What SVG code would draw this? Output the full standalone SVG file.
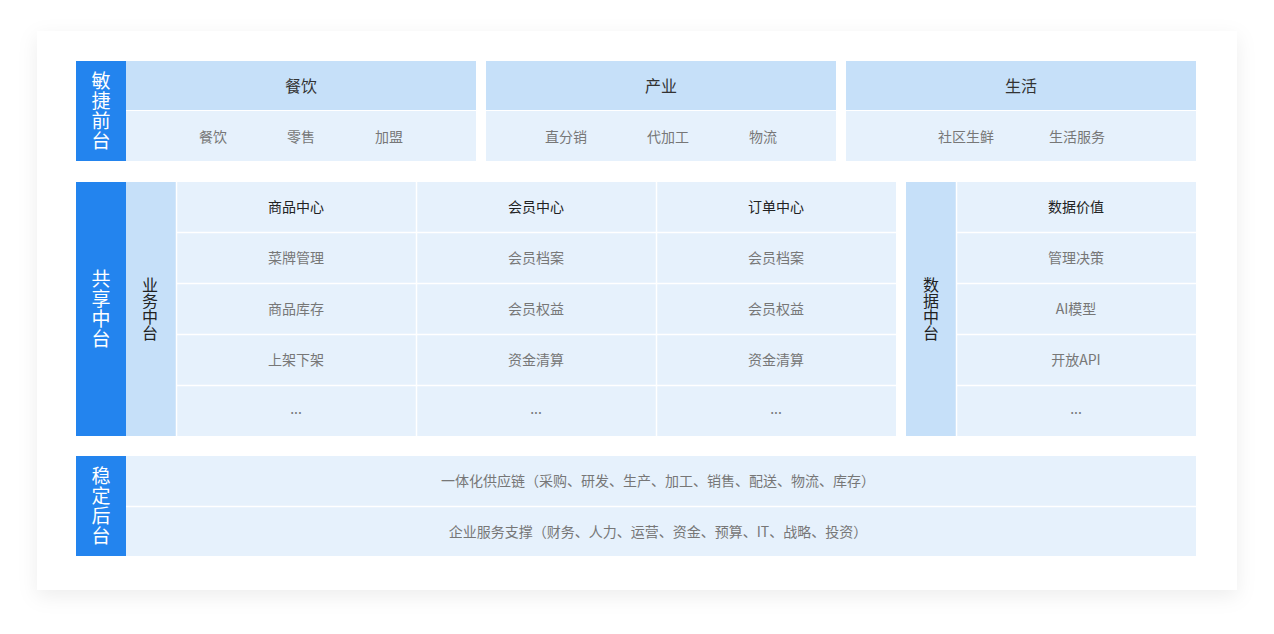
<svg xmlns="http://www.w3.org/2000/svg" width="1274" height="634" viewBox="0 0 1274 634">
<defs>
<filter id="sh" x="-10%" y="-10%" width="120%" height="125%">
<feDropShadow dx="0" dy="6" stdDeviation="10" flood-color="#000" flood-opacity="0.07"/>
</filter>
<style>
text{font-family:"Noto Sans CJK SC","Liberation Sans",sans-serif;text-anchor:middle}
.blue{fill:#2384EE}
.hd{fill:#C6E0F9}
.cell{fill:#E6F1FC}
.vl{fill:#FFFFFF;font-size:19px;writing-mode:vertical-rl;letter-spacing:1px}
.vd{fill:#222222;font-size:16px;writing-mode:vertical-rl}
.h16{fill:#333333;font-size:16px}
.h14{fill:#222222;font-size:14px}
.s14{fill:#777777;font-size:14px}
.sep{stroke:#FFFFFF;stroke-width:1.5}
</style>
</defs>
<rect width="1274" height="634" fill="#FFFFFF"/>
<rect x="37" y="31" width="1200" height="559" fill="#FFFFFF" filter="url(#sh)"/>

<g id="front">
<rect class="blue" x="76" y="61" width="50" height="100"/>
<text class="vl" x="101" y="111">敏捷前台</text>
</g>
<g id="catering">
<rect class="hd" x="126" y="61" width="350" height="49"/>
<rect class="cell" x="126" y="111" width="350" height="50"/>
<text class="h16" x="301" y="92">餐饮</text>
<text class="s14" x="213" y="142">餐饮</text>
<text class="s14" x="301" y="142">零售</text>
<text class="s14" x="389" y="142">加盟</text>
</g>
<g id="industry">
<rect class="hd" x="486" y="61" width="350" height="49"/>
<rect class="cell" x="486" y="111" width="350" height="50"/>
<text class="h16" x="661" y="92">产业</text>
<text class="s14" x="566" y="142">直分销</text>
<text class="s14" x="668" y="142">代加工</text>
<text class="s14" x="763" y="142">物流</text>
</g>
<g id="life">
<rect class="hd" x="846" y="61" width="350" height="49"/>
<rect class="cell" x="846" y="111" width="350" height="50"/>
<text class="h16" x="1021" y="92">生活</text>
<text class="s14" x="966" y="142">社区生鲜</text>
<text class="s14" x="1077" y="142">生活服务</text>
</g>

<g id="shared">
<rect class="blue" x="76" y="182" width="50" height="254"/>
<text class="vl" x="101" y="309">共享中台</text>
</g>
<g id="biz">
<rect class="hd" x="126" y="182" width="50" height="254"/>
<text class="vd" x="150" y="309">业务中台</text>
</g>
<g id="biz-grid">
<rect class="cell" x="176" y="182" width="720" height="254"/>
<line class="sep" x1="176.5" y1="182" x2="176.5" y2="436"/>
<line class="sep" x1="416.5" y1="182" x2="416.5" y2="436"/>
<line class="sep" x1="656.5" y1="182" x2="656.5" y2="436"/>
<line class="sep" x1="176" y1="232.5" x2="896" y2="232.5"/>
<line class="sep" x1="176" y1="283.5" x2="896" y2="283.5"/>
<line class="sep" x1="176" y1="334.5" x2="896" y2="334.5"/>
<line class="sep" x1="176" y1="385.5" x2="896" y2="385.5"/>
</g>
<g id="goods">
<text class="h14" x="296" y="212">商品中心</text>
<text class="s14" x="296" y="263">菜牌管理</text>
<text class="s14" x="296" y="314">商品库存</text>
<text class="s14" x="296" y="365">上架下架</text>
<text class="s14" x="296" y="414">...</text>
</g>
<g id="member">
<text class="h14" x="536" y="212">会员中心</text>
<text class="s14" x="536" y="263">会员档案</text>
<text class="s14" x="536" y="314">会员权益</text>
<text class="s14" x="536" y="365">资金清算</text>
<text class="s14" x="536" y="414">...</text>
</g>
<g id="order">
<text class="h14" x="776" y="212">订单中心</text>
<text class="s14" x="776" y="263">会员档案</text>
<text class="s14" x="776" y="314">会员权益</text>
<text class="s14" x="776" y="365">资金清算</text>
<text class="s14" x="776" y="414">...</text>
</g>
<g id="data">
<rect class="hd" x="906" y="182" width="50" height="254"/>
<text class="vd" x="931" y="309">数据中台</text>
<rect class="cell" x="956" y="182" width="240" height="254"/>
<line class="sep" x1="956.5" y1="182" x2="956.5" y2="436"/>
<line class="sep" x1="956" y1="232.5" x2="1196" y2="232.5"/>
<line class="sep" x1="956" y1="283.5" x2="1196" y2="283.5"/>
<line class="sep" x1="956" y1="334.5" x2="1196" y2="334.5"/>
<line class="sep" x1="956" y1="385.5" x2="1196" y2="385.5"/>
<text class="h14" x="1076" y="212">数据价值</text>
<text class="s14" x="1076" y="263">管理决策</text>
<text class="s14" x="1076" y="314">AI模型</text>
<text class="s14" x="1076" y="365">开放API</text>
<text class="s14" x="1076" y="414">...</text>
</g>

<g id="back">
<rect class="blue" x="76" y="456" width="50" height="100"/>
<text class="vl" x="101" y="506">稳定后台</text>
</g>
<g id="back-rows">
<rect class="cell" x="126" y="456" width="1070" height="100"/>
<line class="sep" x1="126" y1="506.5" x2="1196" y2="506.5"/>
<text class="s14" x="658" y="486">一体化供应链（采购、研发、生产、加工、销售、配送、物流、库存）</text>
<text class="s14" x="658" y="537">企业服务支撑（财务、人力、运营、资金、预算、IT、战略、投资）</text>
</g>
</svg>
